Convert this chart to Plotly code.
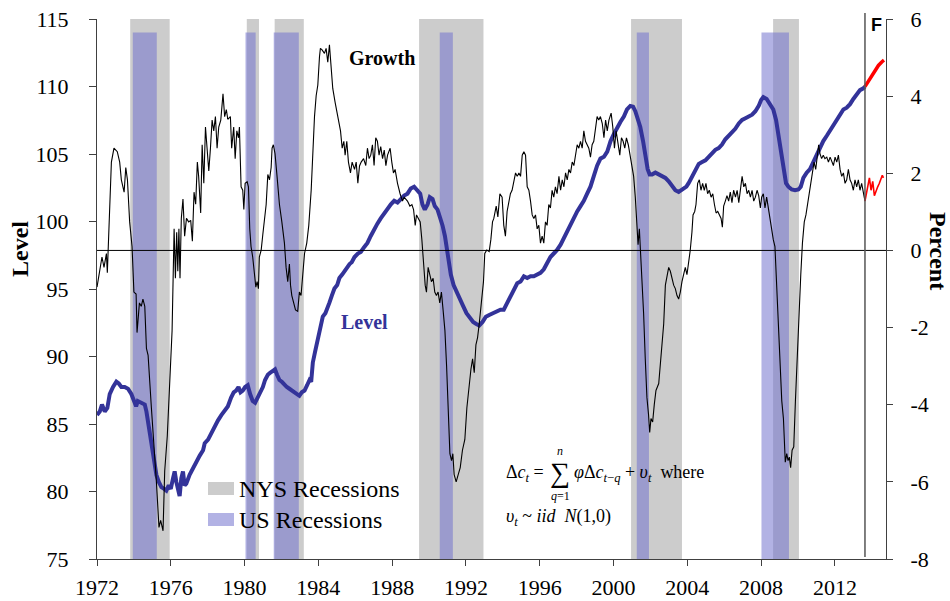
import plotly.graph_objects as go

# ---------------- data ----------------
growth_year = [
    1972.00, 1972.15, 1972.27, 1972.38, 1972.51, 1972.56, 1972.63, 1972.78, 1972.92, 1973.10,
    1973.23, 1973.32, 1973.47, 1973.56, 1973.65, 1973.77, 1973.90, 1974.00, 1974.12, 1974.17,
    1974.30, 1974.40, 1974.49, 1974.59, 1974.68, 1974.77, 1974.95, 1975.10, 1975.22, 1975.36,
    1975.45, 1975.58, 1975.67, 1975.81, 1975.94, 1976.07, 1976.18, 1976.25, 1976.32, 1976.38,
    1976.44, 1976.50, 1976.57, 1976.66, 1976.75, 1976.85, 1976.97, 1977.08, 1977.17, 1977.26,
    1977.35, 1977.44, 1977.51, 1977.62, 1977.70, 1977.79, 1977.88, 1977.97, 1978.06, 1978.15,
    1978.24, 1978.33, 1978.42, 1978.51, 1978.60, 1978.71, 1978.83, 1978.92, 1979.01, 1979.09,
    1979.23, 1979.30, 1979.41, 1979.49, 1979.58, 1979.67, 1979.72, 1979.81, 1979.90, 1979.96,
    1980.03, 1980.14, 1980.21, 1980.28, 1980.35, 1980.44, 1980.53, 1980.61, 1980.68, 1980.75,
    1980.80, 1980.90, 1980.99, 1981.08, 1981.17, 1981.26, 1981.35, 1981.44, 1981.49, 1981.56,
    1981.65, 1981.76, 1981.89, 1982.02, 1982.16, 1982.25, 1982.34, 1982.43, 1982.49, 1982.56,
    1982.65, 1982.76, 1982.88, 1982.97, 1983.06, 1983.15, 1983.25, 1983.37, 1983.48, 1983.61,
    1983.70, 1983.79, 1983.88, 1983.97, 1984.06, 1984.11, 1984.20, 1984.33, 1984.42, 1984.51,
    1984.60, 1984.69, 1984.78, 1984.91, 1985.05, 1985.20, 1985.29, 1985.38, 1985.45, 1985.54,
    1985.63, 1985.74, 1985.83, 1985.96, 1986.05, 1986.14, 1986.23, 1986.32, 1986.45, 1986.57,
    1986.66, 1986.75, 1986.84, 1986.93, 1987.02, 1987.11, 1987.20, 1987.29, 1987.38, 1987.48,
    1987.57, 1987.66, 1987.75, 1987.89, 1987.98, 1988.07, 1988.16, 1988.29, 1988.43, 1988.56,
    1988.65, 1988.83, 1988.96, 1989.07, 1989.16, 1989.25, 1989.32, 1989.41, 1989.52, 1989.61,
    1989.70, 1989.79, 1989.86, 1989.95, 1990.04, 1990.13, 1990.22, 1990.31, 1990.40, 1990.49,
    1990.58, 1990.67, 1990.76, 1990.86, 1990.95, 1991.04, 1991.13, 1991.22, 1991.29, 1991.36,
    1991.47, 1991.58, 1991.69, 1991.81, 1991.94, 1992.05, 1992.17, 1992.27, 1992.36, 1992.45,
    1992.54, 1992.63, 1992.72, 1992.84, 1992.95, 1993.02, 1993.13, 1993.26, 1993.35, 1993.44,
    1993.51, 1993.64, 1993.73, 1993.84, 1993.96, 1994.05, 1994.14, 1994.23, 1994.32, 1994.41,
    1994.50, 1994.59, 1994.69, 1994.78, 1994.87, 1994.96, 1995.05, 1995.14, 1995.23, 1995.32,
    1995.41, 1995.50, 1995.59, 1995.68, 1995.77, 1995.86, 1995.95, 1996.04, 1996.13, 1996.22,
    1996.31, 1996.40, 1996.49, 1996.58, 1996.67, 1996.76, 1996.85, 1996.94, 1997.04, 1997.13,
    1997.22, 1997.31, 1997.40, 1997.49, 1997.58, 1997.67, 1997.76, 1997.85, 1997.94, 1998.03,
    1998.12, 1998.21, 1998.30, 1998.39, 1998.48, 1998.57, 1998.66, 1998.75, 1998.84, 1998.93,
    1999.02, 1999.11, 1999.20, 1999.29, 1999.39, 1999.48, 1999.57, 1999.66, 1999.75, 1999.87,
    1999.96, 2000.05, 2000.14, 2000.23, 2000.34, 2000.43, 2000.52, 2000.61, 2000.70, 2000.80,
    2000.91, 2001.00, 2001.09, 2001.18, 2001.27, 2001.33, 2001.40, 2001.45, 2001.54, 2001.63,
    2001.72, 2001.81, 2001.90, 2001.96, 2002.03, 2002.12, 2002.21, 2002.30, 2002.45, 2002.54,
    2002.63, 2002.72, 2002.81, 2002.90, 2002.99, 2003.08, 2003.17, 2003.26, 2003.35, 2003.44,
    2003.53, 2003.62, 2003.71, 2003.80, 2003.89, 2003.98, 2004.07, 2004.16, 2004.25, 2004.31,
    2004.40, 2004.47, 2004.56, 2004.65, 2004.74, 2004.83, 2004.92, 2005.01, 2005.10, 2005.19,
    2005.29, 2005.38, 2005.47, 2005.56, 2005.65, 2005.74, 2005.83, 2005.90, 2005.97, 2006.06,
    2006.15, 2006.24, 2006.33, 2006.42, 2006.51, 2006.61, 2006.70, 2006.79, 2006.88, 2006.97,
    2007.06, 2007.15, 2007.24, 2007.33, 2007.42, 2007.51, 2007.60, 2007.69, 2007.78, 2007.87,
    2007.96, 2008.03, 2008.12, 2008.21, 2008.30, 2008.39, 2008.48, 2008.57, 2008.66, 2008.75,
    2008.84, 2008.93, 2009.02, 2009.12, 2009.21, 2009.26, 2009.31, 2009.39, 2009.46, 2009.53,
    2009.60, 2009.68, 2009.77, 2009.86, 2009.95, 2010.05, 2010.15, 2010.24, 2010.34, 2010.43,
    2010.52, 2010.62, 2010.69, 2010.78, 2010.87, 2010.96, 2011.05, 2011.12, 2011.19, 2011.28,
    2011.37, 2011.46, 2011.56, 2011.65, 2011.74, 2011.83, 2011.92, 2012.01, 2012.10, 2012.19,
    2012.28, 2012.37, 2012.46, 2012.55, 2012.64, 2012.73, 2012.82, 2012.91, 2013.00, 2013.09,
    2013.18, 2013.27, 2013.36, 2013.45, 2013.54, 2013.63,
]
growth_pct = [
    -0.95, -0.44, -0.17, -0.44, -0.08, -0.58, 0.47, 2.29, 2.65, 2.56,
    2.29, 1.83, 1.51, 2.15, 1.83, 0.74, 0.10, -1.08, -1.13, -2.13,
    -1.36, -1.45, -1.26, -1.45, -2.54, -2.72, -4.09, -5.09, -6.00, -7.18,
    -7.00, -7.27, -5.72, -4.81, -3.45, -2.08, 0.56, -0.72, 0.47, -0.54,
    0.56, -0.72, 0.83, 1.33, 0.37, 0.83, 0.74, 0.78, 0.24, 1.51,
    1.20, 2.29, 1.92, 0.97, 2.74, 1.74, 3.20, 2.47, 2.06, 2.65,
    3.38, 3.10, 3.47, 2.65, 3.20, 3.38, 4.06, 3.47, 3.65, 3.40,
    3.47, 2.65, 3.20, 2.38, 3.10, 2.92, 3.20, 1.65, 1.56, 1.06,
    1.74, 1.78, 1.65, 0.56, 0.10, -0.17, -0.63, -0.95, -0.81, -0.99,
    -0.17, 0.01, 0.42, 0.74, 1.19, 1.97, 1.83, 2.15, 2.65, 2.74,
    2.51, 1.92, 1.19, 0.74, 0.19, -0.44, -0.81, -0.35, -0.90, -1.17,
    -1.36, -1.54, -1.58, -1.08, -1.17, -0.63, -0.08, 0.19, 0.65, 1.56,
    2.65, 3.47, 4.01, 4.29, 5.02, 5.24, 5.20, 5.11, 5.24, 4.88,
    5.33, 4.74, 4.20, 3.83, 3.47, 3.10, 2.65, 2.83, 2.47, 2.83,
    2.29, 2.01, 2.29, 2.10, 2.29, 1.74, 2.19, 2.29, 2.38, 2.20,
    2.65, 2.38, 2.47, 2.74, 2.20, 2.92, 2.83, 2.47, 2.69, 2.38,
    2.60, 2.20, 2.47, 2.65, 2.29, 2.01, 2.10, 1.74, 1.47, 1.28,
    1.38, 1.28, 1.15, 1.19, 1.06, 0.65, 0.92, 0.83, 0.74, 0.28,
    -0.35, -0.90, -1.08, -0.44, -0.63, -0.81, -0.72, -1.08, -1.17, -1.08,
    -1.36, -1.08, -1.54, -2.08, -2.99, -4.36, -5.27, -5.45, -5.27, -5.81,
    -6.00, -5.81, -5.63, -5.18, -4.90, -4.08, -3.45, -3.08, -2.81, -3.17,
    -2.45, -2.26, -1.90, -1.36, -0.81, -0.08, 0.01, -0.03, 0.28, 0.74,
    0.83, 1.15, 0.87, 1.47, 1.38, 0.65, 0.37, 1.01, 1.28, 1.47,
    1.56, 1.74, 2.01, 1.92, 2.01, 1.92, 2.47, 2.56, 2.47, 1.65,
    1.56, 1.28, 0.92, 0.83, 0.92, 0.56, 0.65, 0.19, 0.37, 0.19,
    0.74, 0.65, 1.19, 1.10, 1.56, 1.38, 1.65, 1.47, 1.92, 1.56,
    1.83, 1.65, 2.01, 1.83, 2.10, 2.01, 2.29, 2.20, 2.47, 2.74,
    2.65, 2.83, 2.65, 3.10, 2.83, 2.74, 2.65, 2.42, 2.74, 2.83,
    3.10, 3.47, 3.38, 3.47, 3.29, 2.92, 3.38, 3.10, 3.38, 3.56,
    3.20, 2.65, 3.10, 2.83, 2.47, 2.92, 2.83, 2.65, 2.92, 2.74,
    2.38, 2.20, 1.92, 1.38, 0.65, 0.15, 0.56, 0.10, -0.44, -1.63,
    -2.81, -3.81, -4.27, -4.72, -4.36, -4.45, -3.99, -3.63, -3.45, -2.99,
    -2.36, -1.90, -0.90, -0.63, -0.44, -0.54, -0.72, -0.90, -0.99, -1.17,
    -1.26, -1.08, -0.81, -0.63, -0.44, -0.63, -0.35, 0.01, 0.47, 0.92,
    1.01, 1.19, 1.74, 1.83, 1.56, 1.74, 1.56, 1.74, 1.47, 1.56,
    1.38, 1.47, 1.19, 0.97, 1.01, 0.92, 0.83, 0.60, 1.15, 1.28,
    1.42, 1.28, 1.51, 1.24, 1.56, 1.38, 1.56, 1.24, 1.65, 1.92,
    1.65, 1.74, 1.47, 1.56, 1.38, 1.56, 1.28, 1.38, 1.56, 1.42,
    1.10, 1.38, 1.47, 1.10, 1.38, 1.10, 0.74, 0.47, 0.28, 0.10,
    -0.81, -1.90, -2.81, -3.90, -4.36, -4.81, -5.49, -5.27, -5.45, -5.36,
    -5.63, -5.18, -5.09, -3.90, -2.72, -1.45, -0.63, 0.19, 0.74, 0.92,
    1.19, 1.47, 1.65, 1.92, 2.29, 2.10, 2.47, 2.74, 2.51, 2.38,
    2.47, 2.38, 2.42, 2.29, 2.42, 2.29, 2.20, 2.42, 2.29, 2.47,
    2.10, 1.92, 2.01, 1.74, 1.83, 2.10, 1.83, 1.74, 1.56, 1.83,
    1.65, 1.83, 1.56, 1.74, 1.47, 1.28,
]

growth_fc_year = [2013.63, 2013.76, 2013.87, 2013.96, 2014.05, 2014.14, 2014.23, 2014.32,
                  2014.41, 2014.50, 2014.57, 2014.63]
growth_fc_pct = [1.28, 1.56, 1.88, 1.56, 1.79, 1.42, 1.56, 1.65, 1.74, 1.88, 1.95, 1.88]

level_year = [
    1972.00, 1972.15, 1972.27, 1972.42, 1972.56, 1972.69, 1972.87, 1973.05, 1973.18, 1973.32,
    1973.50, 1973.68, 1973.86, 1974.00, 1974.12, 1974.21, 1974.40, 1974.59, 1974.68, 1974.80,
    1974.95, 1975.10, 1975.22, 1975.35, 1975.49, 1975.64, 1975.76, 1975.89, 1976.00, 1976.12,
    1976.21, 1976.30, 1976.39, 1976.48, 1976.57, 1976.66, 1976.75, 1976.84, 1977.02, 1977.20,
    1977.39, 1977.57, 1977.75, 1977.84, 1978.02, 1978.20, 1978.38, 1978.56, 1978.74, 1978.92,
    1979.09, 1979.27, 1979.41, 1979.54, 1979.67, 1979.78, 1979.90, 1980.03, 1980.17, 1980.30,
    1980.44, 1980.57, 1980.71, 1980.86, 1980.99, 1981.11, 1981.26, 1981.38, 1981.53, 1981.65,
    1981.76, 1981.89, 1982.02, 1982.16, 1982.29, 1982.43, 1982.56, 1982.70, 1982.85, 1982.97,
    1983.10, 1983.25, 1983.39, 1983.52, 1983.61, 1983.70, 1983.82, 1983.97, 1984.11, 1984.24,
    1984.38, 1984.47, 1984.60, 1984.73, 1984.87, 1985.02, 1985.14, 1985.29, 1985.41, 1985.56,
    1985.69, 1985.81, 1985.96, 1986.14, 1986.30, 1986.48, 1986.66, 1986.84, 1987.02, 1987.20,
    1987.38, 1987.57, 1987.75, 1987.93, 1988.11, 1988.29, 1988.47, 1988.65, 1988.83, 1989.01,
    1989.19, 1989.37, 1989.52, 1989.64, 1989.77, 1989.92, 1990.04, 1990.19, 1990.31, 1990.46,
    1990.60, 1990.73, 1990.86, 1990.96, 1991.05, 1991.18, 1991.33, 1991.49, 1991.67, 1991.85,
    1992.03, 1992.21, 1992.39, 1992.54, 1992.72, 1992.90, 1993.08, 1993.26, 1993.44, 1993.58,
    1993.69, 1993.87, 1994.05, 1994.23, 1994.41, 1994.59, 1994.78, 1994.96, 1995.14, 1995.32,
    1995.50, 1995.68, 1995.86, 1996.04, 1996.22, 1996.40, 1996.58, 1996.76, 1996.94, 1997.13,
    1997.31, 1997.49, 1997.67, 1997.85, 1998.03, 1998.21, 1998.39, 1998.57, 1998.75, 1998.93,
    1999.11, 1999.29, 1999.48, 1999.66, 1999.84, 2000.02, 2000.20, 2000.38, 2000.56, 2000.73,
    2000.91, 2001.06, 2001.18, 2001.31, 2001.45, 2001.60, 2001.72, 2001.85, 2001.96, 2002.09,
    2002.27, 2002.45, 2002.63, 2002.81, 2002.99, 2003.17, 2003.35, 2003.53, 2003.68, 2003.80,
    2003.95, 2004.07, 2004.25, 2004.43, 2004.62, 2004.80, 2004.98, 2005.16, 2005.34, 2005.52,
    2005.70, 2005.88, 2006.06, 2006.24, 2006.42, 2006.60, 2006.79, 2006.97, 2007.15, 2007.33,
    2007.51, 2007.69, 2007.87, 2008.00, 2008.12, 2008.30, 2008.48, 2008.66, 2008.81, 2008.93,
    2009.06, 2009.17, 2009.26, 2009.35, 2009.48, 2009.66, 2009.84, 2010.02, 2010.15, 2010.29,
    2010.47, 2010.65, 2010.83, 2011.01, 2011.19, 2011.37, 2011.56, 2011.74, 2011.92, 2012.10,
    2012.28, 2012.46, 2012.64, 2012.82, 2013.00, 2013.18, 2013.36, 2013.54, 2013.63,
]
level_index = [
    85.66, 85.92, 86.44, 85.92, 86.18, 87.22, 87.74, 88.13, 88.00, 87.74,
    87.74, 87.61, 87.22, 86.70, 86.31, 86.70, 86.57, 86.44, 85.92, 84.88,
    83.58, 82.01, 81.23, 80.71, 80.32, 80.19, 80.06, 80.45, 80.19, 80.97,
    81.49, 80.71, 80.19, 79.67, 80.97, 81.49, 80.45, 80.58, 81.23, 81.75,
    82.15, 82.66, 83.06, 83.58, 83.84, 84.36, 84.88, 85.27, 85.66, 86.05,
    86.30, 86.96, 87.35, 87.48, 87.74, 87.35, 87.48, 87.74, 87.87, 87.22,
    86.70, 86.57, 86.96, 87.48, 87.74, 88.26, 88.65, 88.78, 88.91, 89.04,
    88.65, 88.26, 88.13, 87.87, 87.74, 87.61, 87.48, 87.35, 87.22, 87.09,
    87.35, 87.48, 87.87, 88.26, 88.13, 89.56, 90.34, 91.38, 92.42, 92.95,
    93.21, 93.47, 93.99, 94.51, 95.03, 95.29, 95.81, 96.07, 96.33, 96.59,
    96.85, 96.98, 97.37, 97.63, 97.75, 98.10, 98.41, 98.93, 99.45, 99.84,
    100.23, 100.62, 101.01, 101.27, 101.53, 101.40, 101.66, 101.92, 102.06, 102.45,
    102.58, 102.32, 102.06, 101.27, 100.88, 101.27, 101.80, 101.66, 101.14, 100.88,
    100.36, 99.71, 98.93, 97.89, 97.11, 96.07, 95.29, 94.77, 94.25, 93.73,
    93.21, 92.82, 92.56, 92.43, 92.30, 92.56, 92.95, 93.08, 93.21, 93.30,
    93.34, 93.47, 93.47, 93.99, 94.51, 95.03, 95.42, 95.55, 95.94, 95.81,
    95.94, 95.94, 96.07, 96.20, 96.46, 96.98, 97.37, 97.63, 97.89, 98.28,
    98.80, 99.32, 99.84, 100.36, 100.75, 101.14, 101.53, 102.06, 102.58, 103.36,
    104.14, 104.66, 104.79, 105.18, 105.96, 106.48, 107.00, 107.39, 107.78, 108.30,
    108.56, 108.51, 108.17, 107.52, 107.00, 105.96, 104.92, 103.88, 103.49, 103.49,
    103.62, 103.49, 103.36, 103.23, 102.97, 102.58, 102.32, 102.19, 102.32, 102.45,
    102.58, 102.84, 103.36, 103.88, 104.27, 104.40, 104.53, 104.79, 105.05, 105.31,
    105.44, 105.70, 106.09, 106.35, 106.61, 106.87, 107.26, 107.52, 107.65, 107.78,
    107.91, 108.17, 108.56, 109.00, 109.21, 109.08, 108.69, 108.30, 107.52, 106.48,
    105.44, 104.40, 103.36, 102.84, 102.58, 102.37, 102.32, 102.37, 102.58, 103.23,
    103.62, 103.88, 104.40, 104.92, 105.57, 105.96, 106.35, 106.74, 107.26, 107.65,
    108.04, 108.30, 108.43, 108.69, 109.08, 109.47, 109.73, 109.86, 109.99,
]

level_fc_year = [2013.63, 2013.81, 2013.99, 2014.18, 2014.36, 2014.54, 2014.66]
level_fc_index = [109.99, 110.38, 110.77, 111.17, 111.56, 111.82, 111.95]

nys_rec_start = [1973.80, 1980.12, 1981.63, 1989.46, 2000.95, 2008.65]
nys_rec_end = [1975.94, 1980.78, 1983.21, 1992.95, 2003.71, 2010.05]
us_rec_start = [1973.94, 1980.05, 1981.58, 1990.58, 2001.26, 2008.02]
us_rec_end = [1975.24, 1980.60, 1982.94, 1991.29, 2001.92, 2009.51]

x_ticks = [1972, 1976, 1980, 1984, 1988, 1992, 1996, 2000, 2004, 2008, 2012]
left_ticks = [75, 80, 85, 90, 95, 100, 105, 110, 115]
right_ticks = [-8, -6, -4, -2, 0, 2, 4, 6]
right_ticktext = ["-8", "-6", "-4", "-2", "0", "2", "4", "6"]

forecast_start = 2013.63
x_range = [1972, 2014.77]

# ---------------- styling ----------------
SERIF = "Liberation Serif, Times New Roman, serif"
NYS_GRAY = "#cccccc"
US_BLUE = "rgba(115,115,206,0.55)"
LEVEL_BLUE = "#333399"
AX = "#404040"

W, H = 950, 601
ML, MR, MT, MB = 97, 64, 19, 42
PW, PH = W - ML - MR, H - MT - MB


def px(x):
    return (x - ML) / PW


def py(y):
    return (MT + PH - y) / PH


fig = go.Figure()

fig.add_trace(go.Scatter(x=level_year, y=level_index, mode="lines",
                         line=dict(color=LEVEL_BLUE, width=4), yaxis="y",
                         showlegend=False, hoverinfo="skip"))
fig.add_trace(go.Scatter(x=level_fc_year, y=level_fc_index, mode="lines",
                         line=dict(color="#ff0000", width=3.5), yaxis="y",
                         showlegend=False, hoverinfo="skip"))
fig.add_trace(go.Scatter(x=growth_year, y=growth_pct, mode="lines",
                         line=dict(color="#000000", width=1.1), yaxis="y2",
                         showlegend=False, hoverinfo="skip"))
fig.add_trace(go.Scatter(x=growth_fc_year, y=growth_fc_pct, mode="lines",
                         line=dict(color="#ff0000", width=1.6), yaxis="y2",
                         showlegend=False, hoverinfo="skip"))

shapes = []
for s, e in zip(nys_rec_start, nys_rec_end):
    shapes.append(dict(type="rect", xref="x", yref="y", x0=s, x1=e, y0=75, y1=115,
                       fillcolor=NYS_GRAY, line=dict(width=0), layer="below"))
for s, e in zip(us_rec_start, us_rec_end):
    shapes.append(dict(type="rect", xref="x", yref="y", x0=s, x1=e, y0=75, y1=114,
                       fillcolor=US_BLUE, line=dict(width=0), layer="below"))
shapes.append(dict(type="line", xref="x", yref="y2", x0=x_range[0], x1=x_range[1], y0=0, y1=0,
                   line=dict(color="#000000", width=1)))
shapes.append(dict(type="line", xref="x", yref="paper", x0=forecast_start, x1=forecast_start,
                   y0=py(557), y1=py(13), line=dict(color="#555555", width=1.5)))
shapes.append(dict(type="rect", xref="paper", yref="paper", x0=px(208), x1=px(234),
                   y0=py(495), y1=py(482), fillcolor=NYS_GRAY, line=dict(width=0)))
shapes.append(dict(type="rect", xref="paper", yref="paper", x0=px(208), x1=px(234),
                   y0=py(526), y1=py(513), fillcolor="#b2b2e4", line=dict(width=0)))

ann = []


def A(x, y, text, size, xanchor="center", color="#000000", family=SERIF, angle=0):
    ann.append(dict(xref="paper", yref="paper", x=px(x), y=py(y), text=text, showarrow=False,
                    xanchor=xanchor, yanchor="middle", textangle=angle,
                    font=dict(family=family, size=size, color=color)))


A(382, 58, "<b>Growth</b>", 20)
A(364, 322, "<b>Level</b>", 20, color=LEVEL_BLUE)
A(20, 249, "<b>Level</b>", 24, angle=-90)
A(938, 251, "<b>Percent</b>", 24, angle=90)
A(876, 25, "<b>F</b>", 18, family="Liberation Sans, Arial, sans-serif")
A(237, 489, "NYS Recessions", 24, xanchor="left")
A(237, 520, "US Recessions", 24, xanchor="left")
# formula
A(504, 473, "Δ<i>c</i><sub><i>t</i></sub> =", 18, xanchor="left")
A(560, 472, "∑", 28)
A(560, 451, "<i>n</i>", 12)
A(560, 496, "<i>q</i>=1", 12)
A(572, 473, "<i>φ</i>Δ<i>c</i><sub><i>t</i>−<i>q</i></sub> + <i>υ</i><sub><i>t</i></sub>  where", 18,
  xanchor="left")
A(504, 517, "<i>υ</i><sub><i>t</i></sub> ~ <i>iid  N</i>(1,0)", 18, xanchor="left")

fig.update_layout(
    width=W, height=H,
    margin=dict(l=ML, r=MR, t=MT, b=MB, pad=0, autoexpand=False),
    plot_bgcolor="white", paper_bgcolor="white",
    showlegend=False,
    shapes=shapes, annotations=ann,
    xaxis=dict(range=x_range, tickvals=x_ticks, ticks="outside", ticklen=6, tickcolor=AX,
               showline=True, linecolor=AX, linewidth=1, showgrid=False, zeroline=False,
               automargin=False, ticklabelstandoff=3,
               tickfont=dict(family=SERIF, size=22, color="#000000")),
    yaxis=dict(range=[75, 115], tickvals=left_ticks, ticks="outside", ticklen=7, tickcolor=AX,
               showline=True, linecolor=AX, linewidth=1, showgrid=False, zeroline=False,
               ticklabelstandoff=16, automargin=False,
               tickfont=dict(family=SERIF, size=22, color="#000000")),
    yaxis2=dict(range=[-8, 6], tickvals=right_ticks, ticktext=right_ticktext, overlaying="y",
                side="right", ticks="outside", ticklen=6, tickcolor=AX, showline=True,
                linecolor=AX, linewidth=1, showgrid=False, zeroline=False,
                ticklabelstandoff=13, automargin=False,
                tickfont=dict(family=SERIF, size=22, color="#000000")),
)

# the page body has a default 8px margin; remove it so the 950x601 figure fills the window
fig.write_html("out.html", config={"displayModeBar": False},
               post_script="document.body.style.margin='0px';")
